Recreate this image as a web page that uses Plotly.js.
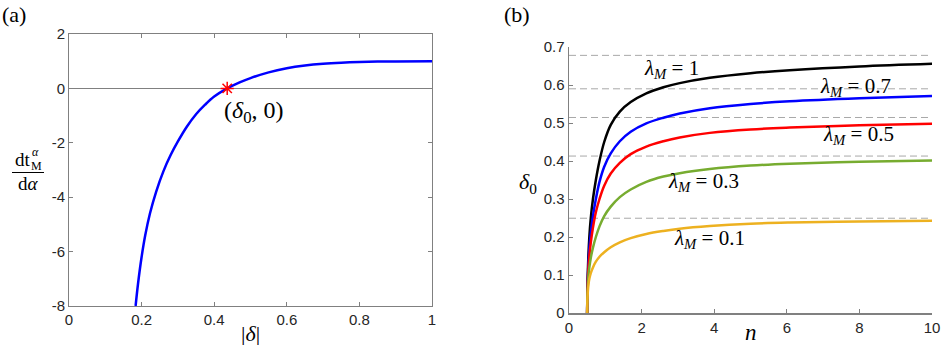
<!DOCTYPE html>
<html>
<head>
<meta charset="utf-8">
<script src="https://cdn.plot.ly/plotly-3.0.1.min.js"></script>
<style>
  html, body { margin: 0; padding: 0; background: #fff; }
  #plot { width: 941px; height: 345px; }
</style>
</head>
<body>
<div id="plot"></div>
<script>
// (a) derivative curve
var delta_abs = [0.1835, 0.19, 0.2, 0.21, 0.223, 0.24, 0.26, 0.28, 0.30, 0.325, 0.35, 0.375, 0.40, 0.4358, 0.47, 0.50, 0.55, 0.60, 0.65, 0.70, 0.75, 0.80, 0.85, 0.90, 1.0];
var dt_dalpha = [-8, -7.2, -6.2, -5.4, -4.6, -3.8, -3.05, -2.45, -1.95, -1.40, -0.95, -0.6, -0.3, 0, 0.22, 0.38, 0.59, 0.74, 0.84, 0.905, 0.945, 0.97, 0.985, 0.993, 1.0];
var root_x = [0.4358];
var root_y = [0];

// (b) delta_0 against n for several lambda_M
var n_vals = [0.5, 0.51, 0.53, 0.56, 0.6, 0.66, 0.74, 0.84, 0.97, 1.15, 1.4, 1.7, 2.13, 2.6, 3.05, 3.88, 5, 6.08, 8, 10];
var d_l1  = [0, 0.07, 0.14, 0.2, 0.25, 0.3, 0.35, 0.4, 0.45, 0.495, 0.53, 0.555, 0.578, 0.594, 0.605, 0.619, 0.631, 0.639, 0.649, 0.656];
var d_l07 = [0, 0.065, 0.12, 0.17, 0.21, 0.255, 0.3, 0.345, 0.385, 0.42, 0.452, 0.477, 0.499, 0.514, 0.525, 0.539, 0.55, 0.557, 0.565, 0.571];
var d_l05 = [0, 0.06, 0.11, 0.15, 0.185, 0.225, 0.265, 0.3, 0.335, 0.367, 0.395, 0.418, 0.438, 0.452, 0.462, 0.474, 0.483, 0.488, 0.494, 0.498];
var d_l03 = [0, 0.05, 0.09, 0.12, 0.145, 0.172, 0.2, 0.228, 0.255, 0.28, 0.305, 0.325, 0.345, 0.359, 0.368, 0.379, 0.388, 0.393, 0.398, 0.401];
var d_l01 = [0, 0.04, 0.07, 0.09, 0.105, 0.12, 0.135, 0.148, 0.16, 0.173, 0.186, 0.197, 0.208, 0.216, 0.222, 0.229, 0.235, 0.238, 0.241, 0.243];
var asymptotes = [0.678, 0.590, 0.5145, 0.413, 0.2494];
var n_range = [0, 10];

var lam_labels = ["1", "0.7", "0.5", "0.3", "0.1"];
var lam_label_n = [2.82, 7.88, 7.97, 3.71, 3.88];
var lam_label_d = [0.643, 0.595, 0.468, 0.345, 0.194];

var tick_a_x = [0, 0.2, 0.4, 0.6, 0.8, 1];
var tick_a_y = [-8, -6, -4, -2, 0, 2];
var tick_b_x = [0, 2, 4, 6, 8, 10];
var tick_b_y = [0, 0.1, 0.2, 0.3, 0.4, 0.5, 0.6, 0.7];

var serif = "Liberation Serif";
var sans = "Liberation Sans";
var axcol = "#808080";

var data = [];

asymptotes.forEach(function (a) {
  data.push({
    x: n_range, y: [a, a], xaxis: "x2", yaxis: "y2",
    mode: "lines", line: { color: "#a8a8a8", width: 1, dash: "7px,4px" },
    hoverinfo: "skip"
  });
});

var curves = [
  [d_l1, "#000000"],
  [d_l07, "#0000ff"],
  [d_l05, "#ff0000"],
  [d_l03, "#77ac30"],
  [d_l01, "#edb120"]
];
curves.forEach(function (c) {
  data.push({
    x: n_vals, y: c[0], xaxis: "x2", yaxis: "y2",
    mode: "lines", line: { color: c[1], width: 2.5, shape: "spline", smoothing: 1 }
  });
});

data.push({
  x: delta_abs, y: dt_dalpha, xaxis: "x", yaxis: "y",
  mode: "lines", line: { color: "#0000ff", width: 2.5, shape: "spline", smoothing: 1 }
});
data.push({
  x: root_x, y: root_y, xaxis: "x", yaxis: "y",
  mode: "markers",
  marker: { symbol: "asterisk-open", size: 11, color: "#ff0000", line: { color: "#ff0000", width: 1.5 } }
});

function fmt(v) { return String(v); }

var annotations = [
  { text: "(a)", xref: "paper", yref: "paper", x: 0, y: 1, xanchor: "left", yanchor: "top",
    showarrow: false, font: { family: serif, size: 22, color: "#000" } },
  { text: "(b)", xref: "paper", yref: "paper", x: 502 / 941, y: 1, xanchor: "left", yanchor: "top",
    showarrow: false, font: { family: serif, size: 22, color: "#000" } },
  { text: "(<i>δ</i><sub>0</sub>, 0)", xref: "paper", yref: "paper", x: 254 / 941, y: (345 - 112) / 345,
    xanchor: "center", yanchor: "middle", showarrow: false, font: { family: serif, size: 24, color: "#000" } },
  { text: "|<i>δ</i>|", xref: "x", yref: "paper", x: 0.5, y: (345 - 333) / 345,
    xanchor: "center", yanchor: "middle", showarrow: false, font: { family: serif, size: 22, color: "#000" } },
  { text: "<i>n</i>", xref: "x2", yref: "paper", x: 5, y: (345 - 332) / 345,
    xanchor: "center", yanchor: "middle", showarrow: false, font: { family: serif, size: 23, color: "#000" } },
  { text: "<i>δ</i><sub>0</sub>", xref: "paper", yref: "paper", x: 528 / 941, y: (345 - 183) / 345,
    xanchor: "center", yanchor: "middle", showarrow: false, font: { family: serif, size: 22, color: "#000" } },
  // fraction dt^alpha_M / d alpha
  { text: "dt", xref: "paper", yref: "paper", x: 23 / 941, y: (345 - 159) / 345,
    xanchor: "center", yanchor: "middle", showarrow: false, font: { family: serif, size: 19, color: "#000" } },
  { text: "<i>α</i>", xref: "paper", yref: "paper", x: 35 / 941, y: (345 - 152) / 345,
    xanchor: "center", yanchor: "middle", showarrow: false, font: { family: serif, size: 12, color: "#000" } },
  { text: "M", xref: "paper", yref: "paper", x: 36.5 / 941, y: (345 - 166) / 345,
    xanchor: "center", yanchor: "middle", showarrow: false, font: { family: serif, size: 12, color: "#000" } },
  { text: "d<i>α</i>", xref: "paper", yref: "paper", x: 28 / 941, y: (345 - 183) / 345,
    xanchor: "center", yanchor: "middle", showarrow: false, font: { family: serif, size: 19, color: "#000" } }
];

lam_labels.forEach(function (lab, i) {
  annotations.push({
    text: "<i>λ</i><sub><i>M</i></sub> = " + lab, xref: "x2", yref: "y2",
    x: lam_label_n[i], y: lam_label_d[i], xanchor: "center", yanchor: "middle",
    showarrow: false, font: { family: serif, size: 21, color: "#000" }
  });
});

var layout = {
  width: 941, height: 345,
  margin: { l: 0, r: 0, t: 0, b: 0 },
  paper_bgcolor: "#fff", plot_bgcolor: "#fff",
  showlegend: false,
  font: { family: sans, size: 15, color: "#262626" },
  xaxis: {
    domain: [69 / 941, 432 / 941], range: [0, 1], anchor: "y",
    showline: true, mirror: "ticks", linecolor: axcol, linewidth: 1,
    ticks: "inside", ticklen: 4, tickcolor: axcol,
    tickvals: tick_a_x, ticktext: tick_a_x.map(fmt),
    showgrid: false, zeroline: false
  },
  yaxis: {
    domain: [(345 - 306) / 345, (345 - 34) / 345], range: [-8, 2], anchor: "x",
    showline: true, mirror: "ticks", linecolor: axcol, linewidth: 1,
    ticks: "inside", ticklen: 4, tickcolor: axcol,
    tickvals: tick_a_y, ticktext: tick_a_y.map(fmt),
    showgrid: false, zeroline: true, zerolinecolor: axcol, zerolinewidth: 1
  },
  xaxis2: {
    domain: [569 / 941, 932 / 941], range: [0, 10], anchor: "y2",
    showline: true, linecolor: axcol, linewidth: 1.5,
    ticks: "inside", ticklen: 4, tickcolor: axcol,
    tickvals: tick_b_x, ticktext: tick_b_x.map(fmt),
    showgrid: false, zeroline: false
  },
  yaxis2: {
    domain: [(345 - 313) / 345, (345 - 47) / 345], range: [0, 0.7], anchor: "x2",
    showline: true, linecolor: axcol, linewidth: 1.5,
    ticks: "inside", ticklen: 4, tickcolor: axcol,
    tickvals: tick_b_y, ticktext: tick_b_y.map(fmt),
    showgrid: false, zeroline: false
  },
  shapes: [
    { type: "line", xref: "paper", yref: "paper", x0: 12 / 941, x1: 44 / 941,
      y0: (345 - 172.5) / 345, y1: (345 - 172.5) / 345, line: { color: "#000", width: 1 } }
  ],
  annotations: annotations
};

Plotly.newPlot("plot", data, layout, { staticPlot: true });
</script>
</body>
</html>
